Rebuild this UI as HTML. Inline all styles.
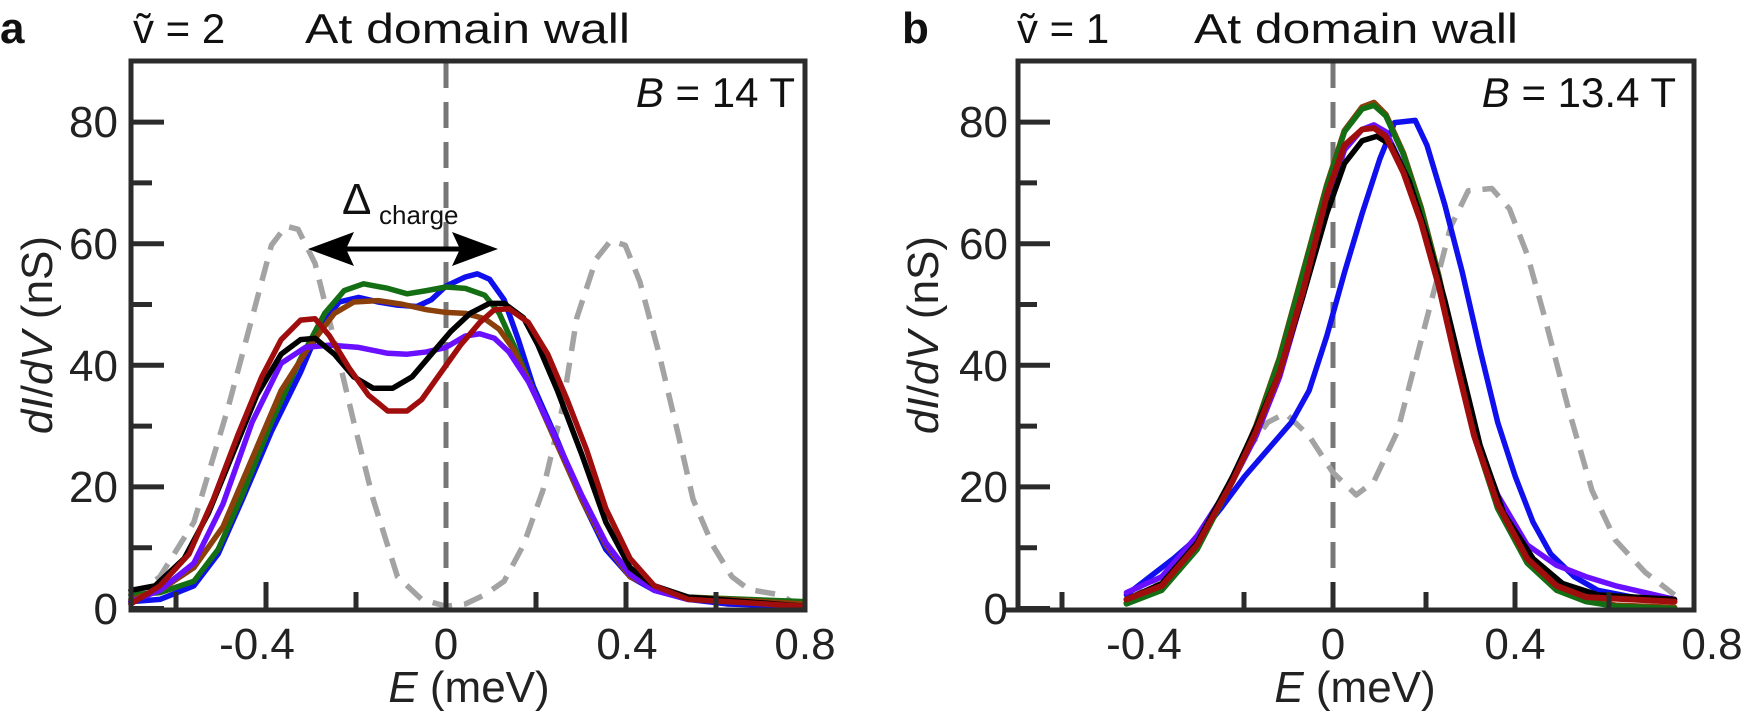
<!DOCTYPE html>
<html><head><meta charset="utf-8"><style>
html,body{margin:0;padding:0;background:#fff;}
svg{display:block;font-family:"Liberation Sans","DejaVu Sans",sans-serif;}
</style></head><body>
<svg width="1744" height="712" viewBox="0 0 1744 712" xmlns="http://www.w3.org/2000/svg">
<!-- ===== Panel a ===== -->
<text x="0" y="43" font-size="44" font-weight="bold" fill="#111">a</text>
<text x="133" y="43" font-size="42" fill="#111">ṽ = 2</text>
<text x="305" y="43" font-size="42" fill="#111" textLength="325" lengthAdjust="spacingAndGlyphs">At domain wall</text>
<text x="795" y="107" font-size="42" fill="#111" text-anchor="end"><tspan font-style="italic">B</tspan> = 14 T</text>

<line x1="446" y1="62" x2="446" y2="608" stroke="#777" stroke-width="5" stroke-dasharray="26,14"/>

<g transform="scale(0.4847,0.4541)" fill="none" stroke-linejoin="round" stroke-linecap="round">
<polyline vector-effect="non-scaling-stroke" stroke="#a3a3a3" stroke-width="5.5" stroke-dasharray="20,12" stroke-linecap="butt" points="270,1320 330,1270 400,1150 470,900 520,700 560,540 590,498 615,505 650,580 690,750 730,930 770,1100 820,1270 870,1320 920,1335 960,1330 1000,1310 1040,1280 1080,1200 1120,1080 1160,900 1190,700 1230,570 1260,530 1290,540 1320,620 1360,780 1400,960 1430,1100 1470,1200 1510,1270 1545,1298 1609,1310 1634,1325"/>
<polyline vector-effect="non-scaling-stroke" stroke="#1010ee" stroke-width="5.5" points="270,1325 330,1320 400,1290 450,1220 500,1100 560,950 620,820 660,720 700,665 740,655 780,665 820,672 860,675 890,660 920,630 960,610 985,603 1010,615 1040,660 1070,750 1100,850 1150,970 1200,1100 1250,1210 1300,1270 1350,1300 1420,1320 1500,1330 1650,1335 1660,1336"/>
<polyline vector-effect="non-scaling-stroke" stroke="#146e14" stroke-width="5.5" points="270,1310 330,1305 400,1280 450,1210 500,1090 560,930 620,790 670,690 710,640 750,625 800,635 840,647 880,640 920,632 960,635 1000,650 1030,690 1060,760 1100,860 1150,980 1200,1100 1250,1200 1300,1260 1350,1295 1420,1315 1660,1325"/>
<polyline vector-effect="non-scaling-stroke" stroke="#8b3f0a" stroke-width="5.5" points="270,1320 330,1300 400,1250 460,1160 520,1010 580,860 640,760 690,690 730,665 780,662 830,670 880,682 920,688 960,690 1000,702 1030,725 1060,770 1100,860 1150,980 1200,1100 1250,1200 1300,1270 1350,1295 1420,1315 1660,1330"/>
<polyline vector-effect="non-scaling-stroke" stroke="#6a0fff" stroke-width="5.5" points="270,1325 330,1300 400,1240 460,1110 520,930 580,800 630,765 680,760 740,765 800,778 840,780 880,775 920,765 960,740 990,735 1020,745 1050,775 1090,840 1140,950 1200,1090 1250,1195 1300,1265 1350,1300 1420,1320 1660,1335"/>
<polyline vector-effect="non-scaling-stroke" stroke="#000" stroke-width="5.5" points="270,1300 320,1290 380,1230 430,1130 480,1000 530,870 580,780 620,748 650,745 690,780 730,830 770,855 810,855 850,830 890,780 930,730 970,690 1010,668 1040,668 1080,700 1110,760 1150,860 1200,1000 1250,1150 1300,1250 1350,1290 1420,1315 1660,1335"/>
<polyline vector-effect="non-scaling-stroke" stroke="#a00d0d" stroke-width="5.5" points="270,1330 330,1290 390,1220 440,1100 490,960 540,830 580,748 620,705 650,702 680,740 720,810 760,870 800,905 840,905 870,880 910,820 950,760 990,710 1020,682 1050,680 1090,710 1130,780 1170,880 1210,990 1250,1120 1300,1230 1350,1290 1420,1320 1660,1335"/>
</g>

<text x="342" y="214" font-size="44" fill="#111">Δ</text>
<text x="379" y="224" font-size="26" fill="#111">charge</text>
<line x1="340" y1="249" x2="466" y2="249" stroke="#000" stroke-width="5"/>
<path d="M 308 249 L 354 232 L 346 249 L 354 266 Z" fill="#000"/>
<path d="M 498 249 L 452 232 L 460 249 L 452 266 Z" fill="#000"/>

<rect x="131" y="61" width="674" height="549" fill="none" stroke="#2b2b2b" stroke-width="5"/>
<g stroke="#2b2b2b" stroke-width="5">
<line x1="131" y1="608.5" x2="164" y2="608.5"/>
<line x1="131" y1="547.7" x2="152" y2="547.7"/>
<line x1="131" y1="486.9" x2="164" y2="486.9"/>
<line x1="131" y1="426.1" x2="152" y2="426.1"/>
<line x1="131" y1="365.3" x2="164" y2="365.3"/>
<line x1="131" y1="304.5" x2="152" y2="304.5"/>
<line x1="131" y1="243.7" x2="164" y2="243.7"/>
<line x1="131" y1="182.9" x2="152" y2="182.9"/>
<line x1="131" y1="122.1" x2="164" y2="122.1"/>
<line x1="176" y1="610" x2="176" y2="592"/>
<line x1="266" y1="610" x2="266" y2="582"/>
<line x1="356" y1="610" x2="356" y2="592"/>
<line x1="446" y1="610" x2="446" y2="582"/>
<line x1="536" y1="610" x2="536" y2="592"/>
<line x1="626" y1="610" x2="626" y2="582"/>
<line x1="716" y1="610" x2="716" y2="592"/>
</g>
<g font-size="44" fill="#222" text-anchor="end">
<text x="118" y="624">0</text>
<text x="118" y="502">20</text>
<text x="118" y="381">40</text>
<text x="118" y="259">60</text>
<text x="118" y="137">80</text>
</g>
<g font-size="44" fill="#222" text-anchor="middle">
<text x="257" y="659">-0.4</text>
<text x="446" y="659">0</text>
<text x="627" y="659">0.4</text>
<text x="805" y="659">0.8</text>
<text x="469" y="702"><tspan font-style="italic">E</tspan> (meV)</text>
<text transform="translate(52,335) rotate(-90)"><tspan font-style="italic">dI</tspan>/<tspan font-style="italic">dV</tspan> (nS)</text>
</g>

<!-- ===== Panel b ===== -->
<text x="902" y="43" font-size="44" font-weight="bold" fill="#111">b</text>
<text x="1017" y="43" font-size="42" fill="#111">ṽ = 1</text>
<text x="1194" y="43" font-size="42" fill="#111" textLength="324" lengthAdjust="spacingAndGlyphs">At domain wall</text>
<text x="1676" y="107" font-size="42" fill="#111" text-anchor="end"><tspan font-style="italic">B</tspan> = 13.4 T</text>

<line x1="1333" y1="62" x2="1333" y2="608" stroke="#777" stroke-width="5" stroke-dasharray="26,14"/>

<g transform="translate(820,0) scale(0.5893,0.4541)" fill="none" stroke-linejoin="round" stroke-linecap="round">
<polyline vector-effect="non-scaling-stroke" stroke="#a3a3a3" stroke-width="5.5" stroke-dasharray="20,12" stroke-linecap="butt" points="520,1325 600,1250 660,1150 720,1000 760,930 790,910 830,960 870,1040 910,1090 940,1060 980,950 1010,800 1040,650 1070,500 1100,420 1140,415 1170,460 1200,560 1230,700 1270,900 1310,1080 1350,1190 1400,1260 1450,1310"/>
<polyline vector-effect="non-scaling-stroke" stroke="#1010ee" stroke-width="5.5" points="520,1310 560,1270 600,1230 640,1185 680,1120 720,1050 760,990 800,930 830,860 860,740 890,600 920,470 950,350 975,270 1010,265 1030,320 1060,450 1090,600 1120,770 1150,930 1180,1050 1210,1150 1240,1220 1280,1270 1320,1300 1380,1315 1450,1320"/>
<polyline vector-effect="non-scaling-stroke" stroke="#6a0fff" stroke-width="5.5" points="520,1305 580,1270 640,1180 700,1060 740,960 780,830 820,650 860,450 890,330 920,285 940,275 960,290 990,370 1020,480 1050,620 1080,790 1110,950 1150,1090 1200,1200 1250,1245 1300,1270 1350,1290 1400,1305 1450,1320"/>
<polyline vector-effect="non-scaling-stroke" stroke="#8b3f0a" stroke-width="6" points="520,1328 580,1298 640,1208 700,1058 740,938 780,788 820,598 860,408 890,288 920,236 940,226 960,252 990,338 1020,458 1050,608 1080,788 1110,958 1150,1118 1200,1238 1250,1298 1300,1323 1350,1333 1450,1338"/>
<polyline vector-effect="non-scaling-stroke" stroke="#146e14" stroke-width="5.5" points="520,1330 580,1300 640,1210 700,1060 740,940 780,790 820,600 860,410 890,290 920,240 940,232 960,255 990,340 1020,460 1050,610 1080,790 1110,960 1150,1120 1200,1240 1250,1300 1300,1325 1350,1335 1450,1340"/>
<polyline vector-effect="non-scaling-stroke" stroke="#000" stroke-width="5.5" points="520,1320 580,1285 640,1195 700,1050 740,940 780,820 820,650 860,470 890,360 920,310 945,300 970,320 1000,400 1030,520 1060,660 1090,820 1120,980 1160,1130 1210,1230 1260,1285 1320,1310 1450,1320"/>
<polyline vector-effect="non-scaling-stroke" stroke="#a00d0d" stroke-width="6" points="520,1320 580,1290 640,1200 700,1060 740,950 780,820 820,640 860,430 890,320 920,285 940,282 960,300 990,380 1020,490 1050,630 1080,800 1110,960 1150,1110 1200,1230 1250,1290 1300,1315 1450,1325"/>
</g>

<rect x="1018" y="61" width="676" height="549" fill="none" stroke="#2b2b2b" stroke-width="5"/>
<g stroke="#2b2b2b" stroke-width="5">
<line x1="1005" y1="610" x2="1018" y2="610"/>
<line x1="1018" y1="608.5" x2="1050" y2="608.5"/>
<line x1="1018" y1="547.7" x2="1037" y2="547.7"/>
<line x1="1018" y1="486.9" x2="1050" y2="486.9"/>
<line x1="1018" y1="426.1" x2="1037" y2="426.1"/>
<line x1="1018" y1="365.3" x2="1050" y2="365.3"/>
<line x1="1018" y1="304.5" x2="1037" y2="304.5"/>
<line x1="1018" y1="243.7" x2="1050" y2="243.7"/>
<line x1="1018" y1="182.9" x2="1037" y2="182.9"/>
<line x1="1018" y1="122.1" x2="1050" y2="122.1"/>
<line x1="1062" y1="610" x2="1062" y2="592"/>
<line x1="1244" y1="610" x2="1244" y2="592"/>
<line x1="1333" y1="610" x2="1333" y2="582"/>
<line x1="1426" y1="610" x2="1426" y2="592"/>
<line x1="1515" y1="610" x2="1515" y2="582"/>
<line x1="1609" y1="610" x2="1609" y2="592"/>
</g>
<g font-size="44" fill="#222" text-anchor="end">
<text x="1008" y="624">0</text>
<text x="1008" y="502">20</text>
<text x="1008" y="381">40</text>
<text x="1008" y="259">60</text>
<text x="1008" y="137">80</text>
</g>
<g font-size="44" fill="#222" text-anchor="middle">
<text x="1144" y="659">-0.4</text>
<text x="1333" y="659">0</text>
<text x="1515" y="659">0.4</text>
<text x="1712" y="659">0.8</text>
<text x="1355" y="702"><tspan font-style="italic">E</tspan> (meV)</text>
<text transform="translate(938,335) rotate(-90)"><tspan font-style="italic">dI</tspan>/<tspan font-style="italic">dV</tspan> (nS)</text>
</g>
</svg>
</body></html>
